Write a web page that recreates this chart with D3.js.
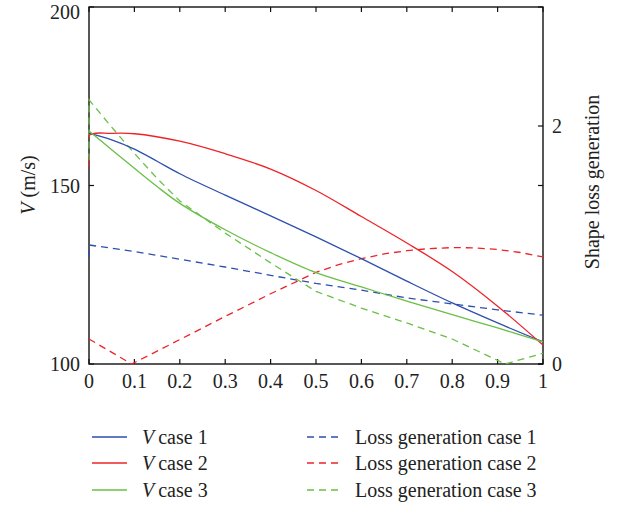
<!DOCTYPE html>
<html>
<head>
<meta charset="utf-8">
<script src="https://cdn.jsdelivr.net/npm/d3@7/dist/d3.min.js"></script>
<style>
  html, body { margin: 0; padding: 0; background: #fff; }
  svg { display: block; }
  text { font-family: "Liberation Serif", "Times New Roman", serif; fill: #222; }
</style>
</head>
<body>
<svg id="chart" width="617" height="505"></svg>
<script>
// ---- data ----
const vCase1X = [0, 0.05, 0.1, 0.15, 0.2, 0.3, 0.4, 0.5, 0.6, 0.7, 0.8, 0.9, 1.0];
const vCase1  = [164.6, 162.8, 160.2, 156.8, 153.3, 147.3, 141.5, 135.6, 129.5, 123.2, 117.1, 111.5, 106.2];

const vCase2X = [0, 0, 0.05, 0.1, 0.2, 0.3, 0.4, 0.5, 0.6, 0.7, 0.8, 0.9, 1.0];
const vCase2  = [155.3, 164.0, 164.6, 164.5, 162.4, 158.9, 154.6, 148.6, 141.3, 133.9, 125.9, 116.2, 105.3];

const vCase3X = [0, 0.05, 0.1, 0.15, 0.2, 0.3, 0.4, 0.5, 0.6, 0.7, 0.8, 0.9, 1.0];
const vCase3  = [165.3, 160.0, 154.8, 149.7, 145.0, 137.6, 131.2, 125.6, 121.6, 117.6, 113.8, 110.1, 106.2];

const lossCase1X = [0, 0, 0.1, 0.2, 0.3, 0.4, 0.5, 0.6, 0.7, 0.8, 0.9, 1.0];
const lossCase1  = [0.90, 1.00, 0.945, 0.88, 0.815, 0.745, 0.677, 0.62, 0.555, 0.505, 0.455, 0.41];

const lossCase2X = [0, 0.094, 0.2, 0.3, 0.4, 0.5, 0.55, 0.6, 0.65, 0.7, 0.75, 0.8, 0.85, 0.9, 0.95, 1.0];
const lossCase2  = [0.21, 0.0, 0.205, 0.40, 0.59, 0.77, 0.835, 0.885, 0.925, 0.952, 0.970, 0.978, 0.976, 0.962, 0.937, 0.90];

const lossCase3X = [0, 0, 0.05, 0.1, 0.15, 0.2, 0.3, 0.4, 0.5, 0.6, 0.7, 0.8, 0.9, 0.916, 1.0];
const lossCase3  = [1.71, 2.22, 1.99, 1.77, 1.56, 1.37, 1.10, 0.85, 0.61, 0.47, 0.345, 0.21, 0.03, 0.0, 0.09];

const xTicks = [0, 0.1, 0.2, 0.3, 0.4, 0.5, 0.6, 0.7, 0.8, 0.9, 1];
const xTickLabels = ["0", "0.1", "0.2", "0.3", "0.4", "0.5", "0.6", "0.7", "0.8", "0.9", "1"];
const leftTicks = [100, 150, 200];
const rightTicks = [0, 2];
const vLegendLabels = ["case 1", "case 2", "case 3"];
const lossLegendLabels = ["Loss generation case 1", "Loss generation case 2", "Loss generation case 3"];
const colors = ["#2d4fae", "#ee2328", "#6abf46"];

// ---- layout ----
const svg = d3.select("#chart");
const L = 89, R = 543, T = 7, B = 364;

const x = d3.scaleLinear().domain([0, 1]).range([L, R]);
const yL = d3.scaleLinear().domain([100, 200]).range([B, T]);
const yR = d3.scaleLinear().domain([0, 3]).range([B, T]);

const fs = 20;

// ---- axes box ----
const ax = svg.append("g");
ax.append("rect").attr("x", L).attr("y", T).attr("width", R - L).attr("height", B - T)
  .attr("fill", "none").attr("stroke", "#111").attr("stroke-width", 1.4);

// clip
svg.append("clipPath").attr("id", "clip")
  .append("rect").attr("x", L - 1).attr("y", T - 1).attr("width", R - L + 2).attr("height", B - T + 2);

const plot = svg.append("g").attr("clip-path", "url(#clip)");

function drawLine(xs, ys, scaleY, color, dashed) {
  const pts = xs.map((d, i) => [d, ys[i]]);
  const gen = d3.line().x(d => x(d[0])).y(d => scaleY(d[1]))
    .curve(dashed ? d3.curveLinear : d3.curveCatmullRom.alpha(0.5));
  plot.append("path")
    .attr("d", gen(pts))
    .attr("fill", "none")
    .attr("stroke", color)
    .attr("stroke-width", 1.3)
    .attr("stroke-dasharray", dashed ? "7,5" : null);
}

drawLine(lossCase1X, lossCase1, yR, colors[0], true);
drawLine(lossCase2X, lossCase2, yR, colors[1], true);
drawLine(lossCase3X, lossCase3, yR, colors[2], true);
drawLine(vCase1X, vCase1, yL, colors[0], false);
drawLine(vCase2X, vCase2, yL, colors[1], false);
drawLine(vCase3X, vCase3, yL, colors[2], false);

const tk = 5;
// x ticks bottom/top
xTicks.forEach((t, i) => {
  ax.append("line").attr("x1", x(t)).attr("x2", x(t)).attr("y1", B).attr("y2", B - tk).attr("stroke", "#111").attr("stroke-width", 1.2);
  ax.append("line").attr("x1", x(t)).attr("x2", x(t)).attr("y1", T).attr("y2", T + tk).attr("stroke", "#111").attr("stroke-width", 1.2);
  ax.append("text").attr("x", x(t)).attr("y", 388).attr("text-anchor", "middle")
    .attr("font-size", fs).text(xTickLabels[i]);
});
// left ticks
leftTicks.forEach(t => {
  ax.append("line").attr("x1", L).attr("x2", L + tk).attr("y1", yL(t)).attr("y2", yL(t)).attr("stroke", "#111").attr("stroke-width", 1.2);
  ax.append("line").attr("x1", R).attr("x2", R - tk).attr("y1", yL(t)).attr("y2", yL(t)).attr("stroke", "#111").attr("stroke-width", 1.2);
  ax.append("text").attr("x", 80).attr("y", Math.max(yL(t), 11.5)).attr("dy", "0.36em").attr("text-anchor", "end")
    .attr("font-size", fs).text(t);
});
// right ticks
rightTicks.forEach(t => {
  ax.append("line").attr("x1", R).attr("x2", R - tk).attr("y1", yR(t)).attr("y2", yR(t)).attr("stroke", "#111").attr("stroke-width", 1.2);
  ax.append("text").attr("x", 552).attr("y", yR(t)).attr("dy", "0.35em").attr("text-anchor", "start")
    .attr("font-size", fs).text(t);
});

// axis titles
const lt = svg.append("text").attr("transform", `translate(35,185) rotate(-90)`)
  .attr("text-anchor", "middle").attr("font-size", fs);
lt.append("tspan").attr("font-style", "italic").text("V");
lt.append("tspan").text(" (m/s)");

svg.append("text").attr("transform", `translate(599,182) rotate(-90)`)
  .attr("text-anchor", "middle").attr("font-size", fs).text("Shape loss generation");

// ---- legend ----
const rowY = [437, 463, 490];
const leg = svg.append("g");
colors.forEach((c, i) => {
  leg.append("line").attr("x1", 92).attr("x2", 127).attr("y1", rowY[i]).attr("y2", rowY[i])
    .attr("stroke", c).attr("stroke-width", 1.3);
  const t = leg.append("text").attr("x", 142).attr("y", rowY[i] + 6.5).attr("font-size", fs);
  t.append("tspan").attr("font-style", "italic").text("V");
  t.append("tspan").attr("dx", 4).text(vLegendLabels[i]);

  leg.append("line").attr("x1", 307).attr("x2", 342).attr("y1", rowY[i]).attr("y2", rowY[i])
    .attr("stroke", c).attr("stroke-width", 1.3).attr("stroke-dasharray", "7,5");
  leg.append("text").attr("x", 355).attr("y", rowY[i] + 6.5).attr("font-size", fs).text(lossLegendLabels[i]);
});
</script>
</body>
</html>
